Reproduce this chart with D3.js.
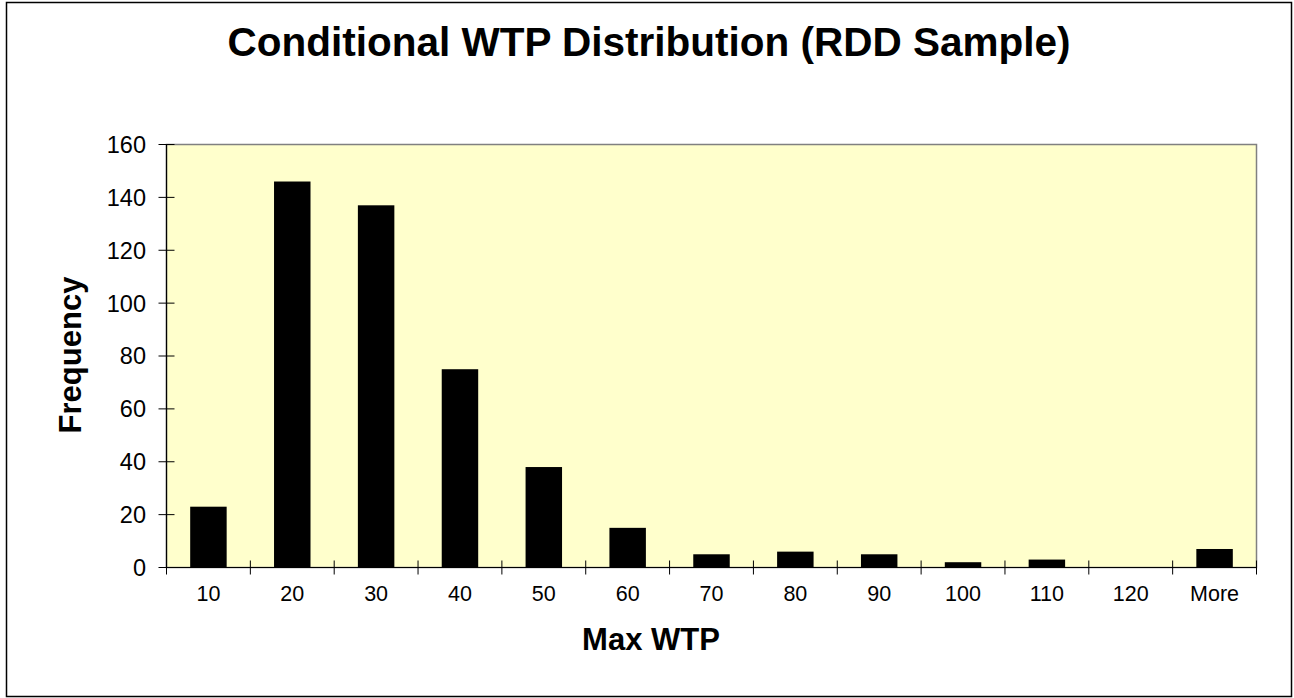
<!DOCTYPE html>
<html><head><meta charset="utf-8">
<script src="https://cdn.jsdelivr.net/npm/d3@7"></script>
<style>html,body{margin:0;padding:0;background:#fff;}svg{display:block;}</style>
</head><body>
<svg id="c" width="1294" height="698"></svg>
<script>
const categories = ["10","20","30","40","50","60","70","80","90","100","110","120","More"];
const frequency = [23,146,137,75,38,15,5,6,5,2,3,0,7];
const yTicks = [0,20,40,60,80,100,120,140,160];
const titleText = "Conditional WTP Distribution (RDD Sample)";
const xTitle = "Max WTP";
const yTitle = "Frequency";

const svg = d3.select("#c");
const font = "Arial, 'Liberation Sans', sans-serif";
svg.append("rect").attr("x",6.5).attr("y",2.5).attr("width",1285).attr("height",694)
  .attr("fill","#fff").attr("stroke","#000").attr("stroke-width",1.5);

const L=166.5, R=1256.5, T=144.5, B=567.5;
const x = d3.scaleBand().domain(categories).range([L,R]).paddingInner(0.565).paddingOuter(0.2825);
const xb = d3.scaleBand().domain(categories).range([L,R]);
const y = d3.scaleLinear().domain([0,160]).range([B,T]);

svg.append("rect").attr("x",L).attr("y",T).attr("width",R-L).attr("height",B-T)
  .attr("fill","#FFFFCC").attr("stroke","#808080").attr("stroke-width",1.5);

svg.selectAll(".bar").data(frequency).join("rect")
  .attr("x",(d,i)=>x(categories[i])).attr("width",x.bandwidth())
  .attr("y",d=>y(d)).attr("height",d=>B-y(d)).attr("fill","#000");

// axes
svg.append("line").attr("x1",L).attr("x2",L).attr("y1",T).attr("y2",B).attr("stroke","#000").attr("stroke-width",1.2);
svg.append("line").attr("x1",L).attr("x2",R).attr("y1",B).attr("y2",B).attr("stroke","#000").attr("stroke-width",1.2);

svg.selectAll(".yt").data(yTicks).join("line")
  .attr("x1",L-8).attr("x2",L+8).attr("y1",d=>y(d)).attr("y2",d=>y(d)).attr("stroke","#000");
svg.selectAll(".yl").data(yTicks).join("text")
  .attr("x",146).attr("y",d=>y(d)).attr("dy","0.36em").attr("text-anchor","end")
  .attr("font-family",font).attr("font-size",23.5).text(d=>d);

const bounds = categories.map(c=>xb(c)).concat([R]);
svg.selectAll(".xt").data(bounds).join("line")
  .attr("x1",d=>d).attr("x2",d=>d).attr("y1",B-7).attr("y2",B+7).attr("stroke","#000");
svg.selectAll(".xl").data(categories).join("text")
  .attr("x",d=>xb(d)+xb.bandwidth()/2).attr("y",601).attr("text-anchor","middle")
  .attr("font-family",font).attr("font-size",21.5).text(d=>d);

svg.append("text").attr("x",649).attr("y",56).attr("text-anchor","middle")
  .attr("font-family",font).attr("font-weight","bold").attr("font-size",40.5).text(titleText);
svg.append("text").attr("x",651).attr("y",650).attr("text-anchor","middle")
  .attr("font-family",font).attr("font-weight","bold").attr("font-size",31).text(xTitle);
svg.append("text").attr("transform","translate(81,355) rotate(-90)").attr("text-anchor","middle")
  .attr("font-family",font).attr("font-weight","bold").attr("font-size",31).text(yTitle);
</script>
</body></html>
